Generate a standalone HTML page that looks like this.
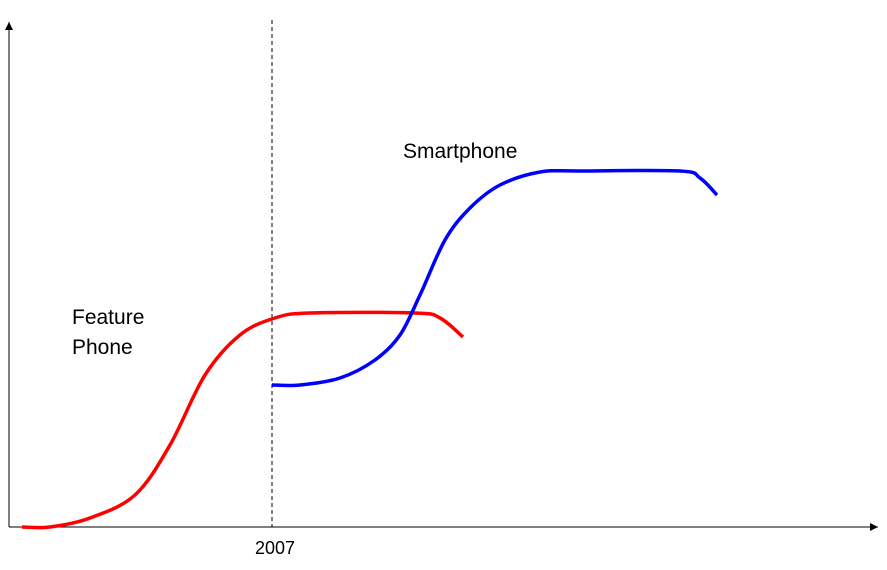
<!DOCTYPE html>
<html><head><meta charset="utf-8"><style>
body{margin:0;background:#fff;}
svg{display:block;font-family:"Liberation Sans",Arial,sans-serif;}
</style></head><body>
<svg id="c" width="887" height="570" viewBox="0 0 887 570">
<defs><marker id="ar" markerWidth="10" markerHeight="10" refX="8" refY="4" orient="auto"><path d="M0,0 L8,4 L0,8 z" fill="#000"/></marker></defs>
<line x1="9" y1="527" x2="9" y2="22" stroke="#000" stroke-width="1" marker-end="url(#ar)"/>
<line x1="9" y1="527" x2="878" y2="527" stroke="#000" stroke-width="1" marker-end="url(#ar)"/>
<line x1="272" y1="20" x2="272" y2="527" stroke="#000" stroke-width="1" stroke-dasharray="4,3"/>
<text x="275" y="554" font-size="18" text-anchor="middle">2007</text>
<text x="72" y="324" font-size="21">Feature</text>
<text x="72" y="354" font-size="21">Phone</text>
<text x="403" y="158" font-size="21">Smartphone</text>
<g id="series"></g>
</svg>
<script>
const redX=[1.3,4.1,8.1,12.6,16.1,19.6,23.1,26.6,30.1,40.6,43.1,45.4];
const redY=[0,0,1.8,6.4,16.4,30.4,38.4,41.8,42.8,42.8,41.8,38];
const blueX=[26.3,29.1,33.1,36.6,39.1,41.1,43.6,46.1,49.1,53.1,57.1,67.1,69.1,70.8];
const blueY=[28.4,28.4,29.8,33.4,38.4,46.4,57.4,63.8,68.4,71,71.2,71.2,69.8,66.4];
function sx(v){return 9+v*10;}
function sy(v){return 527-v*5;}
function path(xs,ys){
  const p=xs.map((x,i)=>[sx(x),sy(ys[i])]);
  let d='M'+p[0][0]+','+p[0][1];
  for(let i=0;i<p.length-1;i++){
    const p0=p[i-1]||p[i],p1=p[i],p2=p[i+1],p3=p[i+2]||p2;
    const c1=[p1[0]+(p2[0]-p0[0])/6,p1[1]+(p2[1]-p0[1])/6];
    const c2=[p2[0]-(p3[0]-p1[0])/6,p2[1]-(p3[1]-p1[1])/6];
    d+=' C'+c1+' '+c2+' '+p2;
  }
  return d;
}
const g=document.getElementById('series');
function add(xs,ys,col,name){
  const e=document.createElementNS('http://www.w3.org/2000/svg','path');
  e.setAttribute('d',path(xs,ys));
  e.setAttribute('fill','none');
  e.setAttribute('stroke',col);
  e.setAttribute('stroke-width','3.5');
  
  
  g.appendChild(e);
}
add(redX,redY,'#ff0000','feature-phone-line');
add(blueX,blueY,'#0000ff','smartphone-line');
</script>
</body></html>
